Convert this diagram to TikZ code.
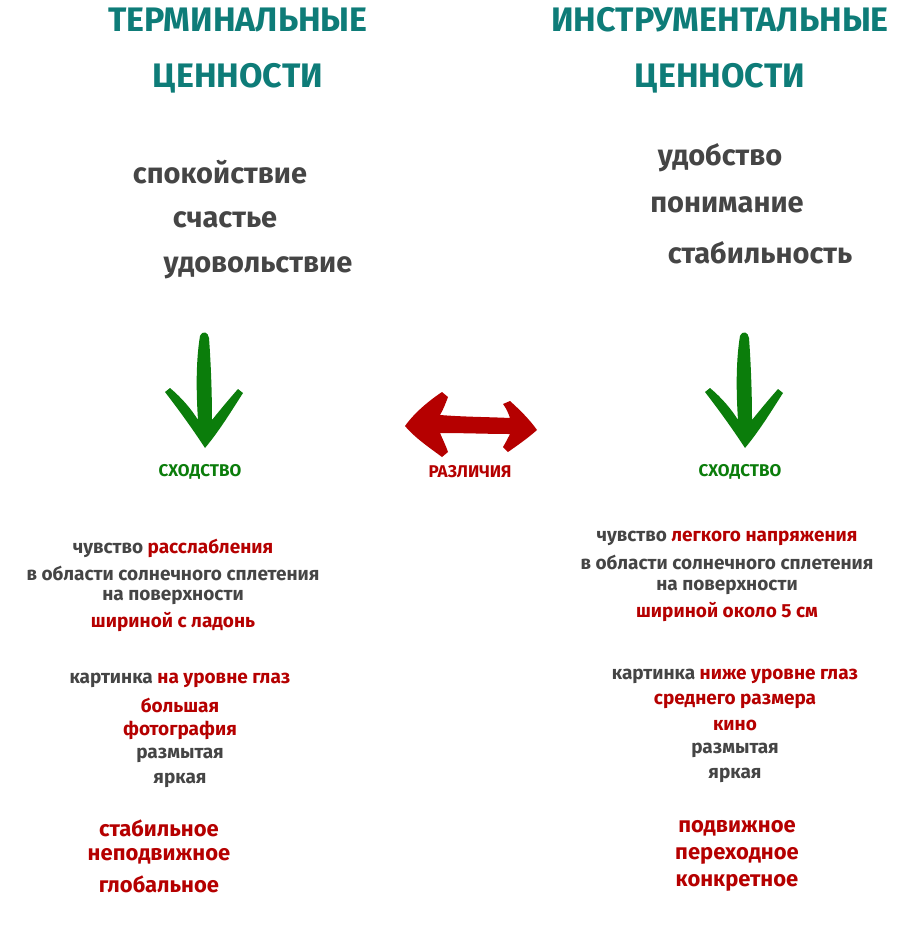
\documentclass[tikz,border=0pt]{standalone}
\usepackage{fontspec}
\setmainfont{Fira Sans}
\definecolor{teal1}{HTML}{0E7C78}
\definecolor{gray1}{HTML}{454545}
\definecolor{red1}{HTML}{B50000}
\definecolor{green1}{HTML}{0B7D0B}
\tikzset{
 ttl/.style={text=teal1,font=\fontsize{34}{36}\selectfont\bfseries},
 big/.style={text=gray1,font=\fontsize{29}{32}\selectfont\bfseries},
 sm/.style={text=gray1,font=\fontsize{19}{21}\selectfont\bfseries,inner sep=0},
 lab/.style={font=\fontsize{17}{19}\selectfont\bfseries},
}
\newcommand{\rd}[1]{\textcolor{red1}{#1}}
\begin{document}
\begin{tikzpicture}[x=1pt,y=-1pt]
\useasboundingbox (0,0) rectangle (900,929);
\node[ttl] (t1) at (238,20) {ТЕРМИНАЛЬНЫЕ};
\node[ttl] (t2) at (238,78) {ЦЕННОСТИ};
\node[ttl] (t3) at (720,20) {ИНСТРУМЕНТАЛЬНЫЕ};
\node[ttl] (t4) at (720,78) {ЦЕННОСТИ};
\node[big] (a1) at (220,172) {спокойствие};
\node[big] (a2) at (225,220) {счастье};
\node[big] (a3) at (258,268) {удовольствие};
\node[big] (b1) at (720,158) {удобство};
\node[big] (b2) at (727,205) {понимание};
\node[big] (b3) at (760,253) {стабильность};
% green arrows
\foreach \x in {0,540}{
\fill[green1,xshift=\x] (205,448) .. controls (190,425) and (175,405) .. (165,392) -- (170,388) .. controls (182,398) and (192,410) .. (198,420) .. controls (196,390) and (196,360) .. (200,336) .. controls (203,330) and (208,332) .. (209,338) .. controls (211,365) and (212,395) .. (212,420) .. controls (220,410) and (230,398) .. (238,389) -- (243,393) .. controls (232,410) and (220,430) .. cycle;}
% red arrow
\fill[red1] (405,426) .. controls (415,412) and (430,400) .. (442,392) -- (448,397) .. controls (445,405) and (443,410) .. (440,415) .. controls (465,417) and (490,417) .. (510,418) .. controls (508,412) and (506,408) .. (503,404) -- (510,401) .. controls (520,410) and (530,420) .. (537,430) .. controls (528,438) and (518,445) .. (508,452) -- (503,447) .. controls (506,442) and (508,438) .. (510,434) .. controls (488,434) and (465,433) .. (440,433) .. controls (443,440) and (446,446) .. (448,452) -- (442,457) .. controls (430,448) and (415,438) .. cycle;
\node[lab,text=green1] (s1) at (200,472) {СХОДСТВО};
\node[lab,text=red1] (r) at (470,472) {РАЗЛИЧИЯ};
\node[lab,text=green1] (s2) at (740,472) {СХОДСТВО};
% left block
\node[sm] (l1) at (173,548) {чувство \rd{расслабления}};
\node[sm] (l2) at (173,573) {в области солнечного сплетения};
\node[sm] (l3) at (173,597) {на поверхности};
\node[sm] (l4) at (173,622) {\rd{шириной с ладонь}};
\node[sm] (l5) at (180,680) {картинка \rd{на уровне глаз}};
\node[sm] (l6) at (180,705) {\rd{большая}};
\node[sm] (l7) at (180,730) {\rd{фотография}};
\node[sm] (l8) at (180,755) {размытая};
\node[sm] (l9) at (180,780) {яркая};
\node[sm,font=\fontsize{22}{24}\selectfont\bfseries] (l10) at (159,828) {\rd{стабильное}};
\node[sm,font=\fontsize{22}{24}\selectfont\bfseries] (l11) at (159,856) {\rd{неподвижное}};
\node[sm,font=\fontsize{22}{24}\selectfont\bfseries] (l12) at (159,884) {\rd{глобальное}};
% right block
\node[sm] (m1) at (727,538) {чувство \rd{легкого напряжения}};
\node[sm] (m2) at (727,562) {в области солнечного сплетения};
\node[sm] (m3) at (727,587) {на поверхности};
\node[sm] (m4) at (727,612) {\rd{шириной около 5 см}};
\node[sm] (m5) at (735,676) {картинка \rd{ниже уровне глаз}};
\node[sm] (m6) at (735,701) {\rd{среднего размера}};
\node[sm] (m7) at (735,725) {\rd{кино}};
\node[sm] (m8) at (735,750) {размытая};
\node[sm] (m9) at (735,775) {яркая};
\node[sm,font=\fontsize{22}{24}\selectfont\bfseries] (m10) at (737,828) {\rd{подвижное}};
\node[sm,font=\fontsize{22}{24}\selectfont\bfseries] (m11) at (737,856) {\rd{переходное}};
\node[sm,font=\fontsize{22}{24}\selectfont\bfseries] (m12) at (737,883) {\rd{конкретное}};
\end{tikzpicture}
\end{document}
